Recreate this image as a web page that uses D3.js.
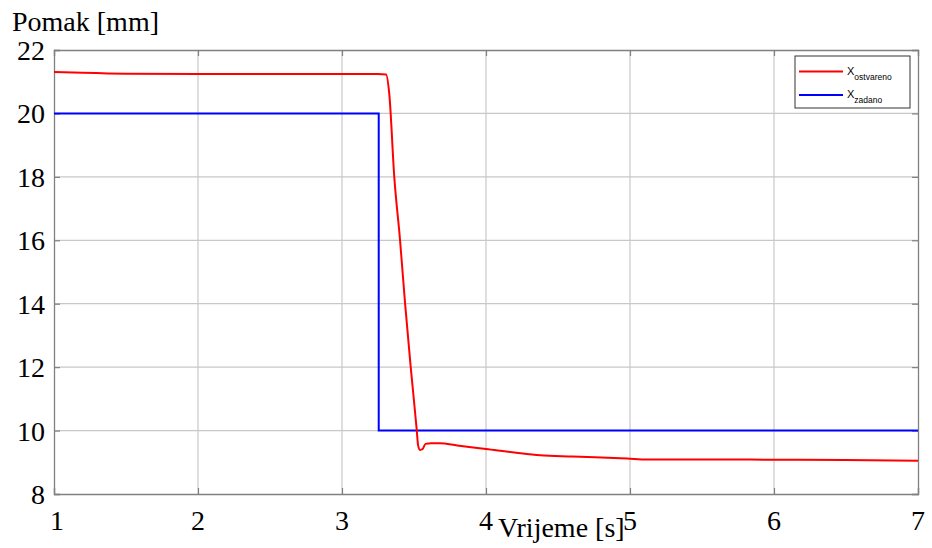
<!DOCTYPE html>
<html><head><meta charset="utf-8">
<script src="https://cdn.jsdelivr.net/npm/d3@7"></script>
<style>body{margin:0;background:#fff}</style>
</head><body>
<svg id="c" width="932" height="548"></svg>
<script>
const xTicks = [1,2,3,4,5,6,7];
const yTicks = [8,10,12,14,16,18,20,22];
const seriesNames = ["ostvareno","zadano"];
const ostvarenoT = [1.0,1.2,1.5,2.0,2.5,3.0,3.25,3.306,3.328,3.363,3.403,3.438,3.477,3.519,3.528,3.542,3.56,3.58,3.62,3.68,3.8,4.0,4.21,4.375,4.6,4.98,5.12,5.5,6.0,6.5,7.0];
const ostvarenoV = [21.31,21.28,21.25,21.24,21.24,21.24,21.24,21.23,20.63,18.0,16.01,14.01,12.01,10.02,9.55,9.39,9.42,9.58,9.6,9.6,9.53,9.42,9.30,9.22,9.18,9.12,9.09,9.09,9.08,9.07,9.05];
const zadanoT = [1.0,3.255,3.255,7.0];
const zadanoV = [20,20,10,10];

const svg = d3.select("#c");
const m = {l:54,r:918,t:50,b:494};
const x = d3.scaleLinear().domain([1,7]).range([m.l,m.r]);
const y = d3.scaleLinear().domain([8,22]).range([m.b,m.t]);
const serif = '"Liberation Serif","Times New Roman",serif';

svg.append("g").selectAll("line").data(xTicks.slice(1,-1)).join("line")
  .attr("x1",d=>x(d)).attr("x2",d=>x(d)).attr("y1",m.t).attr("y2",m.b)
  .attr("stroke","#c8c8c8").attr("stroke-width",1.2);
svg.append("g").selectAll("line").data(yTicks.slice(1,-1)).join("line")
  .attr("y1",d=>y(d)).attr("y2",d=>y(d)).attr("x1",m.l).attr("x2",m.r)
  .attr("stroke","#c8c8c8").attr("stroke-width",1.2);

const xa = svg.append("g").attr("transform",`translate(0,${m.b})`)
  .call(d3.axisBottom(x).tickValues(xTicks).tickSize(-6).tickFormat(""));
const ya = svg.append("g").attr("transform",`translate(${m.l},0)`)
  .call(d3.axisLeft(y).tickValues(yTicks).tickSize(-6).tickFormat(""));
const xt = svg.append("g").attr("transform",`translate(0,${m.t})`)
  .call(d3.axisTop(x).tickValues(xTicks).tickSize(-6).tickFormat(""));
const yr = svg.append("g").attr("transform",`translate(${m.r},0)`)
  .call(d3.axisRight(y).tickValues(yTicks).tickSize(-6).tickFormat(""));
[xa,ya,xt,yr].forEach(g=>{
  g.select(".domain").attr("stroke","#808080").attr("stroke-width",1.3);
  g.selectAll(".tick line").attr("stroke","#808080").attr("stroke-width",1.2);
});

// tick labels
svg.append("g").selectAll("text").data(xTicks).join("text")
  .attr("x",d=>x(d)+(d===1?3:0)).attr("y",530).attr("text-anchor","middle")
  .attr("font-family",serif).attr("font-size",28).attr("fill","#000").text(d=>d);
svg.append("g").selectAll("text").data(yTicks).join("text")
  .attr("x",45).attr("y",d=>y(d)+10).attr("text-anchor","end")
  .attr("font-family",serif).attr("font-size",28).attr("fill","#000").text(d=>d);

const line = d3.line().x(d=>x(d[0])).y(d=>y(d[1]));
const zad = zadanoT.map((t,i)=>[t,zadanoV[i]]);
const ost = ostvarenoT.map((t,i)=>[t,ostvarenoV[i]]);
svg.append("path").datum(zad).attr("d",line).attr("fill","none").attr("stroke","#0000ff").attr("stroke-width",2);
svg.append("path").datum(ost).attr("d",d3.line().x(d=>x(d[0])).y(d=>y(d[1])).curve(d3.curveMonotoneX))
  .attr("fill","none").attr("stroke","#ff0000").attr("stroke-width",2);

svg.append("text").attr("x",12).attr("y",31).attr("font-family",serif).attr("font-size",28).text("Pomak [mm]");
svg.append("text").attr("x",498).attr("y",537).attr("font-family",serif).attr("font-size",28).text("Vrijeme [s]");

const lg = svg.append("g");
lg.append("rect").attr("x",795).attr("y",56).attr("width",115).attr("height",52)
  .attr("fill","#fff").attr("stroke","#333").attr("stroke-width",1);
const colors = ["#ff0000","#0000ff"];
seriesNames.forEach((n,i)=>{
  const yy = 71.5 + i*23.5;
  lg.append("line").attr("x1",799).attr("x2",843).attr("y1",yy).attr("y2",yy).attr("stroke",colors[i]).attr("stroke-width",2);
  const t = lg.append("text").attr("x",847).attr("y",yy+3).attr("font-family","'Liberation Sans',Arial,sans-serif").attr("font-size",11);
  t.append("tspan").text("X");
  t.append("tspan").attr("dy",5).attr("font-size",8.5).text(n);
});
</script>
</body></html>
